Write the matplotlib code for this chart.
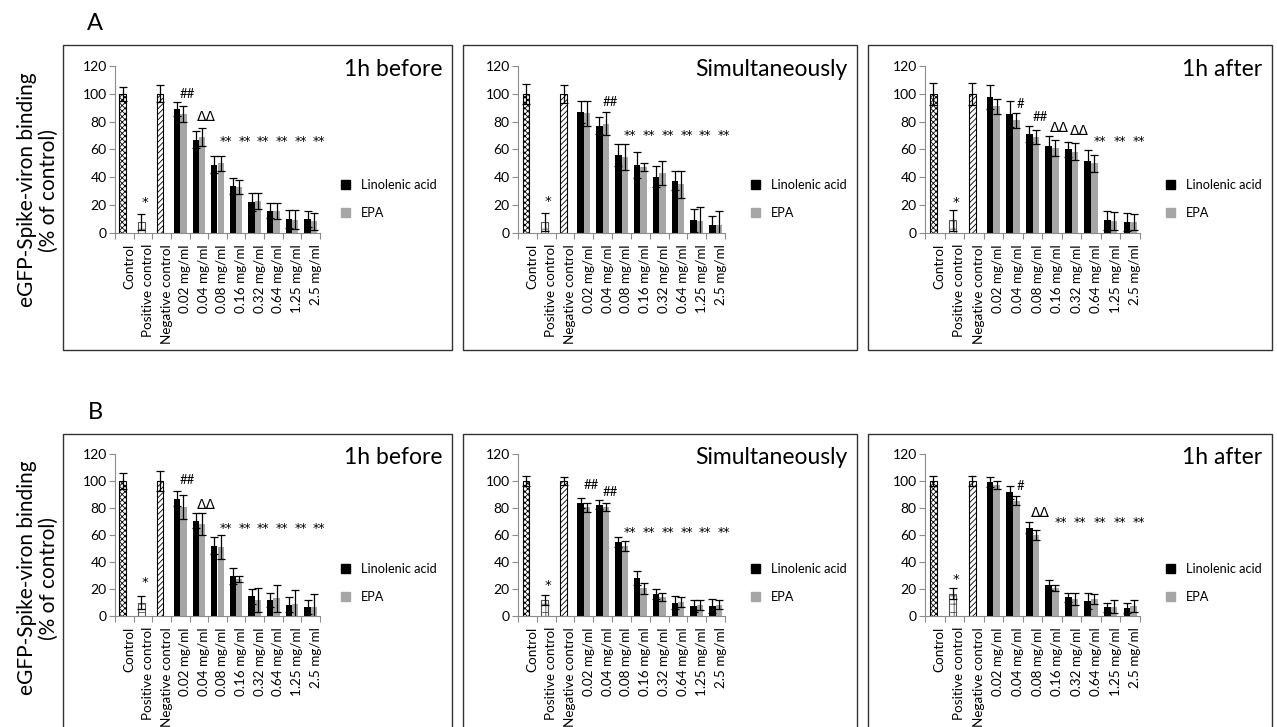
import matplotlib.pyplot as plt
import matplotlib.transforms as mtransforms
from matplotlib.patches import Rectangle, Patch

plt.rcParams['font.family'] = ['Lato', 'DejaVu Sans']
plt.rcParams['hatch.linewidth'] = 0.6

W, H = 1277, 727

categories = ['Control', 'Positive control', 'Negative control', '0.02 mg/ml', '0.04 mg/ml',
              '0.08 mg/ml', '0.16 mg/ml', '0.32 mg/ml', '0.64 mg/ml', '1.25 mg/ml', '2.5 mg/ml']
series_names = ['Linolenic acid', 'EPA']
panel_titles = ['1h before', 'Simultaneously', '1h after']
row_letters = ['A', 'B']
ylabel = 'eGFP-Spike-viron binding\n(% of control)'

# ---- A, 1h before
a1_ctrl = [100, 8, 100]
a1_ctrl_err = [5, 5.5, 6]
a1_lin = [89, 67, 49, 34, 22, 16, 10, 10]
a1_lin_err = [5, 6, 6, 5.7, 6.5, 5.5, 6.3, 5.5]
a1_epa = [85.5, 69, 50, 33, 23, 16, 9.5, 8.5]
a1_epa_err = [5.7, 6.5, 5.3, 5.2, 5.5, 5.7, 6.7, 6]
# ---- A, simultaneously
a2_ctrl = [100, 8, 100]
a2_ctrl_err = [7, 6.5, 6.4]
a2_lin = [87, 77, 56, 49, 40.5, 37.5, 9, 5.5]
a2_lin_err = [8, 6.2, 8, 9.3, 7.7, 6.7, 8.4, 6.7]
a2_epa = [86, 78.5, 54.5, 47.5, 43, 35, 8.5, 6]
a2_epa_err = [9, 8.4, 9.3, 2.7, 8.4, 9.9, 10, 9.5]
# ---- A, 1h after
a3_ctrl = [100, 9, 100]
a3_ctrl_err = [8, 7.5, 8]
a3_lin = [97.5, 85.5, 71, 62.5, 60, 51.5, 9, 8]
a3_lin_err = [8.6, 9.3, 5.8, 7.4, 5.7, 7.9, 6.6, 6.5]
a3_epa = [91, 81, 69, 61, 58.5, 50, 8.5, 8]
a3_epa_err = [5.3, 5.3, 5.3, 5.5, 6.3, 6, 6.4, 6]
# ---- B, 1h before
b1_ctrl = [100, 10, 100]
b1_ctrl_err = [6, 5, 7.5]
b1_lin = [87, 70.5, 52, 29.5, 14.5, 12, 8.5, 6.5]
b1_lin_err = [5.5, 5.5, 6.2, 5.7, 5.7, 5.4, 5.7, 5]
b1_epa = [80.5, 68, 51, 27.5, 12, 13, 9, 6.5]
b1_epa_err = [9, 8.2, 9, 2, 8.7, 9.9, 9.9, 9.7]
# ---- B, simultaneously
b2_ctrl = [100, 11.5, 100]
b2_ctrl_err = [4, 3.7, 3]
b2_lin = [83.5, 82.5, 55, 28, 16.5, 10, 7.5, 7.5]
b2_lin_err = [3.7, 3.2, 3.7, 5, 3.7, 4.8, 4.3, 5]
b2_epa = [80.5, 80.5, 51.5, 20.5, 14, 10.5, 8, 8.5]
b2_epa_err = [3.5, 3, 3.7, 4.2, 3, 3.7, 3.8, 3.3]
# ---- B, 1h after
b3_ctrl = [100, 16.5, 100]
b3_ctrl_err = [4, 4.2, 4]
b3_lin = [99.5, 91.5, 65.5, 23, 14, 11, 6.5, 6]
b3_lin_err = [3.7, 4.5, 4.2, 3.7, 3.3, 6, 3.2, 3.5]
b3_epa = [97, 85.5, 60, 21, 12.5, 12.5, 7, 7.5]
b3_epa_err = [3.2, 3.5, 3.7, 2.3, 4.2, 3.7, 4.8, 4.3]

# significance marks: (category index, text, label height)
a1_marks = [(1, '*', 22), (3, '##', 100), (4, 'ΔΔ', 83)] + [(i, '**', 66) for i in range(5, 11)]
a2_marks = [(1, '*', 22.7), (4, '##', 94.4)] + [(i, '**', 70) for i in range(5, 11)]
a3_marks = [(1, '*', 22), (4, '#', 93), (5, '##', 83), (6, 'ΔΔ', 75.8), (7, 'ΔΔ', 73.6)] + \
           [(i, '**', 65.5) for i in range(8, 11)]
b1_marks = [(1, '*', 24.8), (3, '##', 101), (4, 'ΔΔ', 82.3)] + [(i, '**', 64.5) for i in range(5, 11)]
b2_marks = [(1, '*', 22.8), (3, '##', 97.2), (4, '##', 92.2)] + [(i, '**', 61.5) for i in range(5, 11)]
b3_marks = [(1, '*', 27), (4, '#', 96.5), (5, 'ΔΔ', 76)] + [(i, '**', 69) for i in range(6, 11)]

panels = [
    [(a1_ctrl, a1_ctrl_err, a1_lin, a1_lin_err, a1_epa, a1_epa_err, a1_marks),
     (a2_ctrl, a2_ctrl_err, a2_lin, a2_lin_err, a2_epa, a2_epa_err, a2_marks),
     (a3_ctrl, a3_ctrl_err, a3_lin, a3_lin_err, a3_epa, a3_epa_err, a3_marks)],
    [(b1_ctrl, b1_ctrl_err, b1_lin, b1_lin_err, b1_epa, b1_epa_err, b1_marks),
     (b2_ctrl, b2_ctrl_err, b2_lin, b2_lin_err, b2_epa, b2_epa_err, b2_marks),
     (b3_ctrl, b3_ctrl_err, b3_lin, b3_lin_err, b3_epa, b3_epa_err, b3_marks)],
]

# layout in pixels
box_cols = [(63, 452), (463, 857), (868, 1272)]
box_rows = [(45, 350), (434, 780)]
ax_cols = [(115, 320), (518, 725), (925, 1140)]
ax_rows = [(66, 233), (454, 616)]
leg_left = [341, 751, 1166]
leg_y = [199, 583]
title_y = [70, 458]
ylab_y = [190, 578]
letter_y = [23, 412]

ctrl_hatch = ['xxxxxx', '++', '//////']
ctrl_edge = ['black', '#555555', 'black']
LIN_C = 'black'
EPA_C = '#a6a6a6'
AX_C = '#8c8c8c'


def fx(px):
    return px / W


def fy(py):
    return 1 - py / H


fig = plt.figure(figsize=(W / 100, H / 100), dpi=100)

for r in range(2):
    fig.text(fx(95), fy(letter_y[r]), row_letters[r], fontsize=17, ha='center', va='center')
    fig.text(fx(38), fy(ylab_y[r]), ylabel, fontsize=15, rotation=90, ha='center', va='center',
             multialignment='center', linespacing=1.15)
    for c in range(3):
        ctrl, ctrl_err, lin, lin_err, epa, epa_err, marks = panels[r][c]
        bx0, bx1 = box_cols[c]
        by0, by1 = box_rows[r]
        fig.patches.append(Rectangle((fx(bx0), fy(by1)), fx(bx1 - bx0), (by1 - by0) / H, fill=False,
                                     edgecolor='#333333', lw=1.0, transform=fig.transFigure))

        x0, x1 = ax_cols[c]
        y0, y1 = ax_rows[r]
        ax = fig.add_axes([fx(x0), fy(y1), fx(x1 - x0), (y1 - y0) / H])
        ax.patch.set_alpha(0)

        eb = dict(ecolor='black', elinewidth=0.9, capsize=2.8, capthick=0.9)
        for i in range(3):
            ax.bar(i - 0.08, ctrl[i], width=0.36, color='white', edgecolor=ctrl_edge[i],
                   hatch=ctrl_hatch[i], lw=0.8, yerr=ctrl_err[i], error_kw=eb, zorder=2)
        xs = list(range(3, len(categories)))
        ax.bar([x - 0.17 for x in xs], lin, width=0.34, color=LIN_C, yerr=lin_err,
               error_kw=eb, zorder=2)
        ax.bar([x + 0.17 for x in xs], epa, width=0.34, color=EPA_C, yerr=epa_err,
               error_kw=eb, zorder=2)

        for i, txt, yv in marks:
            if txt == '*':
                ax.text(i + 0.1, yv, txt, ha='center', va='center', fontsize=9.5,
                        family=['DejaVu Sans'])
            elif txt == '**':
                ax.text(i + 0.45, yv, txt, ha='center', va='center', fontsize=9,
                        family=['DejaVu Sans'])
            elif 'Δ' in txt:
                ax.text(i + 0.4, yv, txt, ha='center', va='center', fontsize=10,
                        family=['DejaVu Sans'])
            else:
                ax.text(i + 0.4, yv, txt, ha='center', va='center', fontsize=9.5)

        ax.set_xlim(-0.5, len(categories) - 0.5)
        ax.set_ylim(0, 120)
        ax.set_yticks(range(0, 121, 20))
        ax.tick_params(axis='y', labelsize=10, length=4, color=AX_C, width=0.8, pad=2)
        ax.set_xticks(range(len(categories)))
        ax.set_xticklabels(categories, rotation=90, fontsize=9.7)
        ax.set_xticks([k - 0.5 for k in range(len(categories) + 1)], minor=True)
        ax.tick_params(axis='x', which='major', length=0, pad=8)
        ax.tick_params(axis='x', which='minor', length=4, color=AX_C, width=0.8)
        off = mtransforms.ScaledTranslation(5 / 100, 0, fig.dpi_scale_trans)
        for lbl in ax.get_xticklabels():
            lbl.set_transform(lbl.get_transform() + off)
        for s in ['top', 'right']:
            ax.spines[s].set_visible(False)
        for s in ['left', 'bottom']:
            ax.spines[s].set_color(AX_C)
            ax.spines[s].set_linewidth(0.8)

        handles = [Patch(color=LIN_C), Patch(color=EPA_C)]
        ax.legend(handles, series_names, loc='center left',
                  bbox_to_anchor=(fx(leg_left[c]), fy(leg_y[r])), bbox_transform=fig.transFigure,
                  frameon=False, fontsize=9.2, handlelength=0.7, handleheight=0.7,
                  handletextpad=0.85, labelspacing=1.3, borderpad=0, borderaxespad=0)

        fig.text(fx(bx1 - 10), fy(title_y[r]), panel_titles[c], fontsize=16.5, ha='right', va='center')

fig.savefig('out.png', dpi=100)
